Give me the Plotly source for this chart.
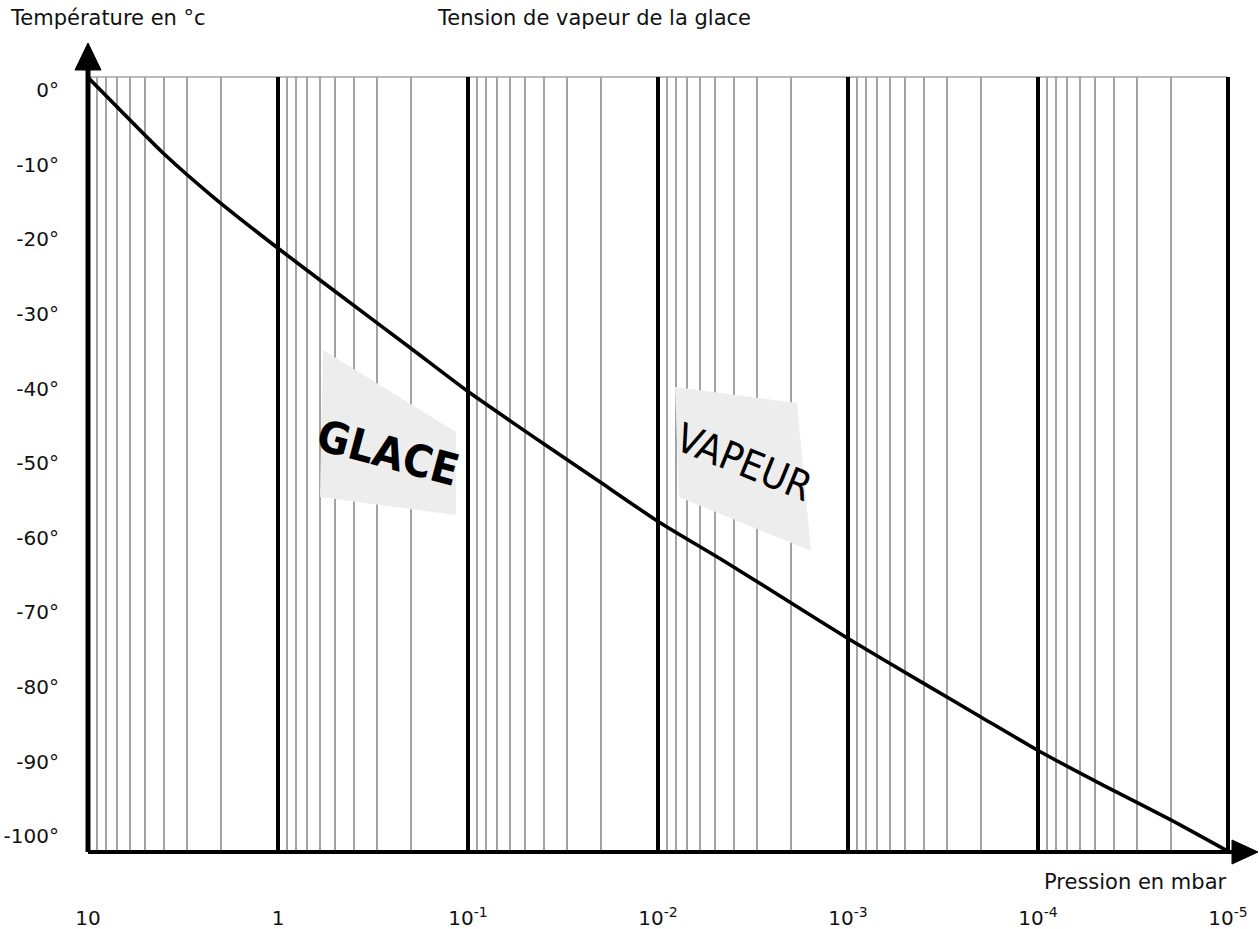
import plotly.graph_objects as go

# Saturation vapour pressure of ice (mbar) vs temperature (°C)
pression_mbar = [10, 4.0, 2.2, 1.0, 0.5, 0.2, 0.1, 0.04, 0.02, 0.01,
                 0.0045, 0.002, 0.001, 4e-4, 2e-4, 1e-4, 4.5e-5, 2e-5, 1e-5]
temperature_c = [1.7, -8.5, -14.3, -21.2, -27.0, -34.6, -40.4, -47.4, -52.6, -57.8,
                 -63.1, -68.7, -73.5, -79.5, -84.0, -88.5, -93.2, -97.8, -102.0]

decades = [10, 1, 0.1, 0.01, 0.001, 1e-4, 1e-5]
decade_labels = ["10", "1", "10<sup>-1</sup>", "10<sup>-2</sup>", "10<sup>-3</sup>",
                 "10<sup>-4</sup>", "10<sup>-5</sup>"]
minor_vals = [m * d / 10 for d in decades[:-1] for m in range(2, 10)]

temp_ticks = list(range(0, -101, -10))
temp_labels = [f"{t}°" for t in temp_ticks]

W, H = 1259, 929
L, R, T, B = 88, 31, 77, 77
PW, PH = W - L - R, H - T - B


def px(x):
    return (x - L) / PW


def py(y):
    return (H - B - y) / PH


label_font = "Comic Sans MS, DejaVu Sans"
tick_font = dict(family="DejaVu Sans, Verdana", size=20, color="#111")

fig = go.Figure()
fig.add_trace(go.Scatter(
    x=pression_mbar, y=temperature_c, mode="lines",
    line=dict(color="black", width=3.6, shape="spline", smoothing=0.5),
    hoverinfo="x+y", showlegend=False,
))

fig.update_xaxes(
    type="log", range=[1, -5], tickvals=decades, ticktext=decade_labels,
    showgrid=True, gridcolor="black", gridwidth=4,
    minor=dict(tickvals=minor_vals, showgrid=True, gridcolor="#a3a3a3", gridwidth=1.5,
               ticks=""),
    showline=False, zeroline=False, ticks="", automargin=False,
    tickfont=tick_font, ticklabelstandoff=52,
)
fig.update_yaxes(
    range=[-102.1, 1.75], tickvals=temp_ticks, ticktext=temp_labels,
    showgrid=False, zeroline=False, showline=False, ticks="", automargin=False,
    tickfont=tick_font, ticklabelstandoff=28,
)

shapes = []
# top border
shapes.append(dict(type="line", xref="paper", yref="paper", x0=0, x1=1, y0=1, y1=1,
                   line=dict(color="#a3a3a3", width=1.5), layer="below"))
# right edge
shapes.append(dict(type="line", xref="paper", yref="paper", x0=1, x1=1, y0=0, y1=1,
                   line=dict(color="black", width=4)))
# vertical axis with arrow
shapes.append(dict(type="line", xref="paper", yref="paper", x0=0, x1=0, y0=0, y1=py(68),
                   line=dict(color="black", width=5)))
shapes.append(dict(type="path", xref="paper", yref="paper",
                   path=f"M {px(75)},{py(70)} L {px(88)},{py(43)} L {px(101)},{py(70)} Z",
                   fillcolor="black", line=dict(color="black", width=1)))
# horizontal axis with arrow
shapes.append(dict(type="line", xref="paper", yref="paper", x0=0, x1=px(1234), y0=0, y1=0,
                   line=dict(color="black", width=4)))
shapes.append(dict(type="path", xref="paper", yref="paper",
                   path=f"M {px(1232)},{py(840)} L {px(1258)},{py(852)} L {px(1232)},{py(864)} Z",
                   fillcolor="black", line=dict(color="black", width=1)))
# region label backdrops
shapes.append(dict(type="path", xref="paper", yref="paper",
                   path=(f"M {px(323)},{py(350)} L {px(456)},{py(432)} "
                         f"L {px(456)},{py(515)} L {px(320)},{py(497)} Z"),
                   fillcolor="#ededed", line=dict(width=0), layer="above"))
shapes.append(dict(type="path", xref="paper", yref="paper",
                   path=(f"M {px(675)},{py(387)} L {px(797)},{py(403)} "
                         f"L {px(811)},{py(551)} L {px(679)},{py(497)} Z"),
                   fillcolor="#ededed", line=dict(width=0), layer="above"))

annotations = [
    dict(text="Température en °c", xref="paper", yref="paper", x=px(8), y=py(18),
         xanchor="left", yanchor="middle", showarrow=False,
         font=dict(family=label_font, size=21, color="#111")),
    dict(text="Tension de vapeur de la glace", xref="paper", yref="paper", x=px(594), y=py(18),
         xanchor="center", yanchor="middle", showarrow=False,
         font=dict(family=label_font, size=21, color="#111")),
    dict(text="Pression en mbar", xref="paper", yref="paper", x=px(1228), y=py(882),
         xanchor="right", yanchor="middle", showarrow=False,
         font=dict(family=label_font, size=21, color="#111")),
    dict(text="<b>GLACE</b>", xref="paper", yref="paper", x=px(388), y=py(452),
         xanchor="center", yanchor="middle", showarrow=False, textangle=15,
         font=dict(family="DejaVu Sans Condensed, DejaVu Sans", size=44, color="black")),
    dict(text="VAPEUR", xref="paper", yref="paper", x=px(744), y=py(462),
         xanchor="center", yanchor="middle", showarrow=False, textangle=22,
         font=dict(family="DejaVu Sans Condensed, DejaVu Sans", size=40, color="black")),
]

fig.update_layout(
    width=W, height=H, margin=dict(l=L, r=R, t=T, b=B),
    paper_bgcolor="white", plot_bgcolor="white",
    shapes=shapes, annotations=annotations, showlegend=False,
)

fig.write_html("out.html")
